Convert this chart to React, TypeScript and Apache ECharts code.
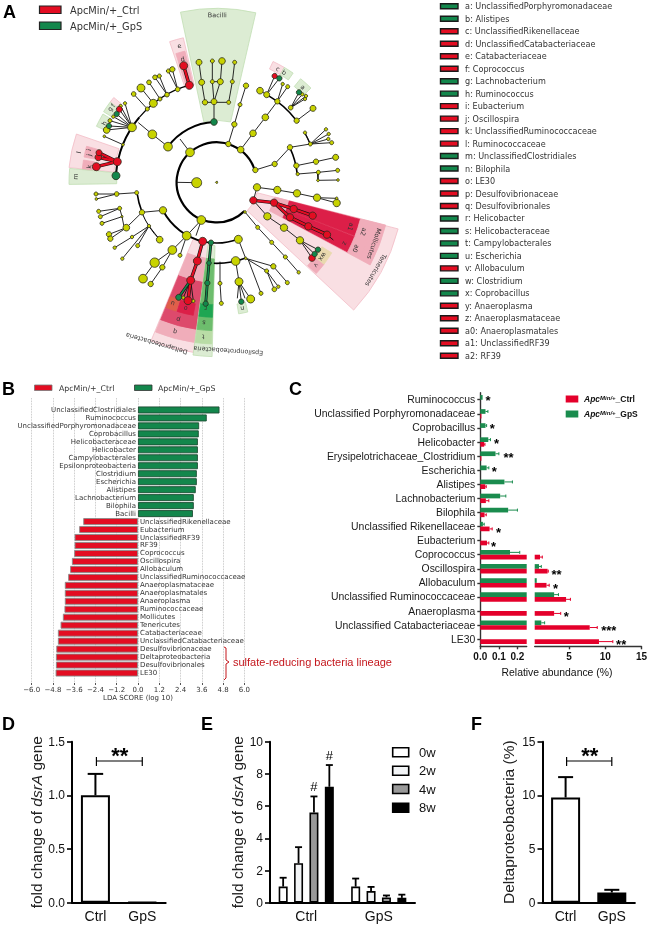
import React, { useEffect, useRef } from "react";
import * as echarts from "echarts";

const SANS = "Liberation Sans";
const DEJA = "DejaVu Sans";
const RED = "#e30d22";
const GREEN = "#13874c";

// ---------- panel A legend
const cladeKeyNames = [
  "a: UnclassifiedPorphyromonadaceae", "b: Alistipes", "c: UnclassifiedRikenellaceae", "d: UnclassifiedCatabacteriaceae",
  "e: Catabacteriaceae", "f: Coprococcus", "g: Lachnobacterium", "h: Ruminococcus", "i: Eubacterium", "j: Oscillospira",
  "k: UnclassifiedRuminococcaceae", "l: Ruminococcaceae", "m: UnclassifiedClostridiales", "n: Bilophila", "o: LE30",
  "p: Desulfovibrionaceae", "q: Desulfovibrionales", "r: Helicobacter", "s: Helicobacteraceae", "t: Campylobacterales",
  "u: Escherichia", "v: Allobaculum", "w: Clostridium", "x: Coprobacillus", "y: Anaeroplasma", "z: Anaeroplasmataceae",
  "a0: Anaeroplasmatales", "a1: UnclassifiedRF39", "a2: RF39",
];
const cladeKeyGroup = "GGRRRRGGRRRRGGRRRGGGGRGGRRRRR";

// ---------- panel A cladogram (units: 1/3 px)
const ringCentre = [650, 547];
const sectorPalette: Record<string, string> = {
  gl: "#dcecd3", pl: "#f9dfe3", pm: "#f0adba", pr: "#dd4a6c", rd: "#dc1f48", or: "#df5f4a", o: "#e9d9ae",
  g2: "#b9dca6", g3: "#6dbd6d", g4: "#1fa652",
};
const sectors: [number, number, number, number, string][] = [
  [186, 522, -102, -77, "gl"],
  [300, 445, -108.5, -103, "pl"], [300, 405, -107.6, -103.6, "pm"],
  [375, 400, -65, -59.5, "pl"], [375, 400, -59.5, -55, "gl"], [370, 400, -51, -45, "gl"],
  [372, 400, -143, -140.5, "pl"], [372, 400, -148, -143, "gl"], [370, 398, -155, -149, "gl"],
  [310, 445, -174.3, -161, "pl"], [372, 405, -167, -164.5, "pm"], [372, 405, -169.2, -167, "pm"], [372, 405, -175, -170.5, "pm"],
  [300, 443, -180.8, -174.6, "gl"],
  [125, 562, 14.4, 43, "pl"], [180, 523, 14.2, 28.3, "pm"],
  [225, 445, 14.5, 21.2, "rd"], [445, 485, 14.5, 21.2, "pm"], [225, 445, 21.5, 28, "rd"], [445, 485, 21.5, 28, "pm"],
  [370, 405, 37.3, 42.5, "pm"], [370, 405, 31.5, 37.3, "o"],
  [185, 515, 97.5, 112.5, "pl"], [445, 485, 97.8, 112.2, "pm"], [300, 445, 97.8, 112.2, "pr"], [230, 300, 97.8, 112.2, "pm"],
  [370, 405, 100, 107, "rd"], [370, 405, 107.5, 112, "or"],
  [190, 523, 91.5, 97.8, "gl"], [445, 485, 91.8, 97.6, "g2"], [405, 445, 91.8, 97.6, "g3"], [365, 405, 91.8, 97.6, "g4"], [230, 365, 91.8, 97.6, "g3"],
  [370, 400, 76.5, 80.5, "gl"],
];
// [radius, from, to, width in px]
const arcs: [number, number, number, number][] = [
  [120, 46, 343, 2.2], [181, -143.8, -92.5, 1.9], [303, -176, -140, 2], [303, -140, -105.7, 1.2],
  [182, 69, 103, 1.6], [182, 103, 152, 1.9], [241, 158, 172.6, 1.6], [242, 134.8, 158, 1],
  [243, 69, 92, 1.6], [243, -25, -6, 1.6], [303, -60, -38, 1.6], [303, -29, -22, 1.2], [304, -5.6, -1, 1.2],
];
const thinLinks: number[][] = [
  [530, 547, 590, 548], [570, 457, 540, 417], [504, 440, 457, 403, 415, 368],
  [396, 382, 320, 390], [396, 382, 327, 378], [396, 382, 330, 362], [396, 382, 340, 350], [396, 382, 350, 342], [396, 382, 358, 328], [396, 382, 375, 310], [396, 382, 362, 318],
  [369, 434, 313, 409], [442, 327, 401, 282], [460, 310, 423, 264], [480, 297, 447, 247], [501, 284, 465, 232], [501, 284, 478, 228], [533, 268, 505, 213], [533, 268, 517, 208],
  [642, 366, 642, 305], [615, 307, 686, 307], [615, 307, 605, 247, 597, 187], [642, 305, 637, 245, 637, 183], [642, 305, 661, 245, 666, 183], [686, 307, 697, 245, 704, 187], [637, 245, 661, 245],
  [685, 432, 703, 373, 720, 314, 738, 257], [722, 449, 759, 400, 796, 352, 832, 304],
  [800, 284, 824, 228], [800, 284, 838, 235], [800, 284, 780, 272], [832, 304, 848, 252], [832, 304, 863, 260],
  [872, 323, 897, 277], [872, 323, 907, 283], [872, 323, 915, 297], [872, 323, 918, 288], [890, 362, 939, 325],
  [766, 510, 824, 492, 870, 442], [870, 442, 931, 432], [931, 432, 915, 398], [931, 432, 978, 388], [931, 432, 986, 402], [931, 432, 995, 428], [931, 432, 985, 417],
  [889, 497, 948, 485, 1007, 472], [893, 522, 955, 517, 1013, 511], [955, 517, 954, 541], [954, 541, 1014, 540],
  [771, 562, 832, 570, 891, 580, 951, 593, 1010, 609], [951, 593, 1010, 595], [771, 562, 760, 601],
  [760, 601, 802, 649, 852, 683, 900, 721], [900, 721, 954, 749], [900, 721, 944, 762], [900, 721, 936, 774], [981, 704, 1000, 720],
  [735, 636, 773, 682, 815, 727, 856, 771, 896, 817],
  [715, 718, 737, 775], [737, 775, 820, 799, 862, 848], [737, 775, 800, 813, 835, 860], [800, 813, 823, 868],
  [660, 785, 660, 850, 664, 910], [707, 783, 717, 845], [717, 845, 724, 905], [717, 845, 712, 895], [717, 845, 752, 897], [717, 845, 735, 895], [745, 780, 783, 880],
  [572, 841, 550, 893], [572, 841, 580, 903], [604, 660, 588, 707], [604, 660, 560, 707],
  [560, 707, 517, 750], [517, 750, 464, 788, 429, 836], [517, 750, 487, 802, 452, 852], [560, 707, 540, 766],
  [489, 631, 426, 637], [447, 678, 367, 776], [447, 678, 413, 737], [447, 678, 396, 711, 344, 743], [447, 678, 479, 719],
  [426, 637, 379, 683, 327, 703], [379, 683, 331, 716], [410, 578, 350, 582, 288, 582], [350, 582, 289, 597],
  [359, 625, 296, 634], [359, 625, 301, 650], [366, 650, 306, 670], [359, 625, 366, 650, 372, 680],
  [352, 485, 348, 527],
];
const redLinks: number[][] = [
  [568, 256, 551, 197], [352, 485, 295, 472], [352, 485, 297, 458], [352, 485, 289, 500],
  [760, 601, 822, 608, 881, 627, 938, 647], [822, 608, 870, 652, 925, 679, 981, 704],
  [608, 724, 592, 783, 572, 841, 564, 902],
];
const greenLinks: number[][] = [[633, 728, 627, 789, 622, 849, 617, 911], [572, 841, 536, 892]];
const yellowNodes: number[][] = [
  [650, 547, 3], [590, 548, 15], [570, 457, 13], [504, 440, 13], [457, 403, 13], [396, 382, 13], [369, 434, 4], [320, 390, 10], [313, 409, 4], [330, 362, 6], [340, 350, 5], [375, 310, 5], [362, 318, 5],
  [442, 327, 6], [460, 310, 12], [423, 264, 12], [401, 282, 7], [447, 247, 7], [465, 232, 7], [478, 228, 6], [480, 297, 6], [501, 284, 7], [505, 213, 6], [517, 208, 8], [533, 268, 7],
  [642, 305, 9], [615, 307, 8], [686, 307, 6], [605, 247, 9], [597, 187, 9], [637, 245, 6], [637, 183, 6], [661, 245, 9], [666, 183, 10], [697, 245, 6], [704, 187, 6],
  [685, 432, 8], [703, 373, 8], [720, 314, 6], [738, 257, 8], [722, 449, 10], [759, 400, 10], [796, 352, 10], [832, 304, 8], [800, 284, 9], [780, 272, 10], [848, 252, 5], [863, 260, 6], [872, 323, 7], [890, 362, 8], [939, 325, 9], [907, 283, 5], [915, 297, 5], [918, 288, 5],
  [766, 510, 8], [824, 492, 8], [870, 442, 8], [889, 497, 8], [931, 432, 6], [915, 398, 5], [978, 388, 5], [986, 402, 5], [995, 428, 6], [985, 417, 5], [948, 485, 8], [1007, 472, 9], [893, 522, 5], [955, 517, 6], [1013, 511, 6], [954, 541, 4], [1014, 540, 4],
  [771, 562, 11], [832, 570, 11], [891, 580, 11], [951, 593, 11], [1010, 609, 11], [1010, 595, 4], [802, 649, 11], [852, 683, 11], [900, 721, 11],
  [735, 636, 4], [773, 682, 6], [815, 727, 6], [856, 771, 6], [896, 817, 5], [715, 718, 12], [737, 775, 4], [707, 783, 13], [660, 850, 6], [664, 910, 6], [800, 813, 6], [820, 799, 8], [823, 868, 7], [835, 860, 5], [862, 848, 6], [783, 880, 6], [717, 845, 12], [752, 897, 12],
  [550, 893, 5], [580, 903, 5], [560, 707, 13], [604, 660, 13], [517, 750, 13], [489, 631, 11], [464, 788, 14], [487, 802, 8], [429, 836, 13], [452, 852, 8], [540, 766, 6], [367, 776, 5], [413, 737, 6], [344, 743, 5], [479, 719, 10], [447, 678, 5], [396, 711, 5], [426, 637, 8], [410, 578, 6], [350, 582, 7], [288, 582, 6], [289, 597, 4], [379, 683, 10], [327, 703, 8], [331, 716, 8], [359, 625, 6], [366, 650, 3], [296, 634, 6], [301, 650, 6], [306, 670, 6],
];
const redNodes: number[][] = [
  [568, 256, 12], [551, 197, 12], [824, 228, 8], [358, 328, 9], [352, 485, 12], [295, 472, 10], [297, 458, 9], [289, 500, 12],
  [760, 601, 11], [822, 608, 11], [881, 627, 11], [938, 647, 11], [870, 652, 11], [925, 679, 11], [981, 704, 11], [936, 774, 10],
  [608, 724, 12], [592, 783, 12], [572, 841, 12], [564, 902, 12],
];
const greenNodes: number[][] = [
  [642, 366, 10], [838, 235, 8], [897, 277, 8], [350, 342, 8], [327, 378, 8], [348, 527, 12], [954, 749, 8], [944, 762, 8], [724, 905, 8],
  [633, 728, 8], [627, 789, 7], [622, 849, 8], [617, 911, 8], [536, 892, 9],
];
const cladeLabels: [string, number, number, number?][] = [
  ["Bacilli", 652, 46], ["Tenericutes", 1127, 810, 120], ["Mollicutes", 1122, 731, 109], ["Deltaproteobacteria", 470, 1030, 196], ["Epsilonproteobacteria", 685, 1052, 184],
  ["e", 538, 138], ["d", 548, 178], ["c", 833, 207], ["b", 852, 218], ["a", 908, 262], ["f", 340, 317], ["g", 331, 327], ["h", 313, 370],
  ["l", 237, 457], ["i", 267, 450], ["j", 268, 465], ["k", 268, 500], ["m", 227, 530],
  ["a1", 1052, 680], ["a2", 1090, 695], ["z", 1034, 730], ["a0", 1067, 745], ["wx", 967, 770], ["v", 948, 796],
  ["q", 525, 995], ["p", 535, 958], ["u", 518, 910], ["o", 557, 925], ["t", 610, 1010], ["s", 612, 968], ["r", 617, 925], ["n", 727, 925],
];

// ---------- panel B
const ldaGreenNames = ["UnclassifiedClostridiales", "Ruminococcus", "UnclassifiedPorphyromonadaceae", "Coprobacillus", "Helicobacteraceae", "Helicobacter", "Campylobacterales", "Epsilonproteobacteria", "Clostridium", "Escherichia", "Alistipes", "Lachnobacterium", "Bilophila", "Bacilli"];
const ldaGreenScores = [4.6, 3.88, 3.45, 3.43, 3.38, 3.38, 3.38, 3.38, 3.32, 3.32, 3.26, 3.15, 3.15, 3.1];
const ldaRedNames = ["UnclassifiedRikenellaceae", "Eubacterium", "UnclassifiedRF39", "RF39", "Coprococcus", "Oscillospira", "Allobaculum", "UnclassifiedRuminococcaceae", "Anaeroplasmataceae", "Anaeroplasmatales", "Anaeroplasma", "Ruminococcaceae", "Mollicutes", "Tenericutes", "Catabacteriaceae", "UnclassifiedCatabacteriaceae", "Desulfovibrionaceae", "Deltaproteobacteria", "Desulfovibrionales", "LE30"];
const ldaRedScores = [-3.09, -3.32, -3.58, -3.58, -3.6, -3.73, -3.83, -3.94, -4.13, -4.13, -4.13, -4.15, -4.24, -4.37, -4.52, -4.52, -4.61, -4.63, -4.63, -4.65];

// ---------- panel C
const abundanceNames = ["Ruminococcus", "Unclassified Porphyromonadaceae", "Coprobacillus", "Helicobacter", "Erysipelotrichaceae_Clostridium", "Escherichia", "Alistipes", "Lachnobacterium", "Bilophila", "Unclassified Rikenellaceae", "Eubacterium", "Coprococcus", "Oscillospira", "Allobaculum", "Unclassified Ruminococcaceae", "Anaeroplasma", "Unclassified Catabacteriaceae", "LE30"];
const gpsMean = [0.0125, 0.028, 0.028, 0.043, 0.082, 0.034, 0.13, 0.107, 0.15, 0.014, 0, 0.16, 0.86, 0.55, 2.95, 0, 1.18, 0];
const gpsErr = [0.0125, 0.041, 0.034, 0.055, 0.1, 0.046, 0.173, 0.1375, 0.2, 0.021, 0, 0.2125, 1.18, 0.55, 3.55, 0, 1.64, 0];
const ctrlMean = [0, 0.006, 0, 0.021, 0.006, 0, 0.027, 0.03, 0.023, 0.05, 0.036, 1.0, 2.05, 1.9, 4.6, 2.95, 7.86, 9.14];
const ctrlErr = [0, 0.006, 0, 0.025, 0.006, 0, 0.032, 0.046, 0.032, 0.064, 0.046, 1.32, 2.14, 2.27, 5.2, 3.86, 8.9, 11.05];
const starsNear: [number, number, string][] = [[0.041, 0, "*"], [0.064, 2, "*"], [0.0875, 3, "*"], [0.152, 4, "**"], [0.075, 5, "*"], [0.098, 9, "*"], [0.071, 10, "*"]];
const starsFar: [number, number, string][] = [[3.27, 12, "**"], [3.14, 13, "*"], [4.64, 15, "*"], [10.5, 16, "***"], [12.2, 17, "**"]];
const BREAK_AT = 0.27;

// ---------- panels D, E, F
const groups = ["Ctrl", "GpS"];
const dMean = [1.0, 0.006];
const dErr = [1.2, 0.006];
const weeks = ["0w", "2w", "4w", "8w"];
const weekFills = ["#ffffff", "#f2f4f6", "#999999", "#000000"];
const eMean = [[1.0, 1.0], [2.45, 0.72], [5.6, 0.33], [7.2, 0.3]];
const eErr = [[1.55, 1.5], [3.45, 0.98], [6.6, 0.45], [8.55, 0.5]];
const eHash: [number, number, number][] = [[0, 2, 7.19], [0, 3, 9.13]];
const fMean = [9.8, 0.95];
const fErr = [11.7, 1.2];

const rad = (d: number) => (d * Math.PI) / 180;
const indexData = (a: any[]) => a.map((_, i) => [i, i]);

function cladeSeries(renderOne: (row: any, api: any, k: number, centre: number[]) => any, rows: any[]) {
  return {
    type: "custom", xAxisIndex: 0, yAxisIndex: 0, silent: true, clip: false, data: indexData(rows),
    renderItem: (p: any, api: any) => {
      const k = api.size([1, 0])[0];
      return renderOne(rows[p.dataIndex], api, k, api.coord(ringCentre));
    },
  };
}
const linkSeries = (rows: number[][], stroke: string, lw: number) =>
  cladeSeries((row, api) => {
    const points: number[][] = [];
    for (let i = 0; i < row.length; i += 2) points.push(api.coord([row[i], row[i + 1]]));
    return { type: "polyline", shape: { points }, style: { stroke, lineWidth: lw, fill: "none" } };
  }, rows);
const nodeSeries = (rows: number[][], color: string) => ({
  type: "scatter", xAxisIndex: 0, yAxisIndex: 0, silent: true, clip: false, data: rows,
  symbolSize: (v: number[]) => (v[2] * 2) / 3,
  itemStyle: { color, borderColor: "#2b2b1a", borderWidth: 0.8, opacity: 1 },
});

function errSeries(axis: number, rows: number[][], cap: number, lw: number) {
  // rows: [category, mean, top, px offset]
  return {
    type: "custom", xAxisIndex: axis, yAxisIndex: axis, silent: true, clip: false, z: 1, data: indexData(rows),
    renderItem: (p: any, api: any) => {
      const [c, m, t, off] = rows[p.dataIndex];
      const a = api.coord([c, m]);
      const b = api.coord([c, t]);
      const x = a[0] + off;
      return {
        type: "group",
        children: [
          { type: "line", shape: { x1: x, y1: a[1], x2: x, y2: b[1] }, style: { stroke: "#000", lineWidth: lw } },
          { type: "line", shape: { x1: x - cap / 2, y1: b[1], x2: x + cap / 2, y2: b[1] }, style: { stroke: "#000", lineWidth: lw } },
        ],
      };
    },
  };
}
function bracketSeries(axis: number, level: number) {
  return {
    type: "custom", xAxisIndex: axis, yAxisIndex: axis, silent: true, clip: false, data: [[0, level]],
    renderItem: (_: any, api: any) => {
      const a = api.coord([0, level]);
      const b = api.coord([1, level]);
      const st = { stroke: "#000", lineWidth: 1.2 };
      return {
        type: "group",
        children: [
          { type: "line", shape: { x1: a[0] + 1, y1: a[1], x2: b[0], y2: a[1] }, style: st },
          { type: "line", shape: { x1: a[0] + 1, y1: a[1] - 4, x2: a[0] + 1, y2: a[1] + 5 }, style: st },
          { type: "line", shape: { x1: b[0], y1: a[1] - 4, x2: b[0], y2: a[1] + 5 }, style: st },
          { type: "text", x: (a[0] + b[0]) / 2 + 1, y: a[1] - 6, style: { text: "**", fill: "#000", fontSize: 22, fontWeight: "bold", fontFamily: SANS, align: "center", verticalAlign: "middle" } },
        ],
      };
    },
  };
}
function hErr(axis: number, means: number[], tops: number[], color: string, dy: number, keep: (m: number) => boolean) {
  const rows = means.map((m, i) => [m, tops[i], i]).filter((r) => keep(r[0]) && r[1] > r[0]);
  return {
    type: "custom", xAxisIndex: axis, yAxisIndex: axis, silent: true, clip: false, data: indexData(rows),
    renderItem: (p: any, api: any) => {
      const [m, t, i] = rows[p.dataIndex];
      const a = api.coord([m, i]);
      const b = api.coord([t, i]);
      const y = a[1] + dy;
      return {
        type: "group",
        children: [
          { type: "line", shape: { x1: a[0], y1: y, x2: b[0], y2: y }, style: { stroke: color, lineWidth: 1 } },
          { type: "line", shape: { x1: b[0], y1: y - 1.5, x2: b[0], y2: y + 1.5 }, style: { stroke: color, lineWidth: 1 } },
        ],
      };
    },
  };
}
const starSeries = (axis: number, rows: [number, number, string][]) => ({
  type: "custom", xAxisIndex: axis, yAxisIndex: axis, silent: true, clip: false, data: indexData(rows),
  renderItem: (p: any, api: any) => {
    const [v, i, s] = rows[p.dataIndex];
    const c = api.coord([v, i]);
    return { type: "text", x: c[0], y: c[1] + (i >= 9 ? 5.5 : 1), style: { text: s, fill: "#000", fontSize: 13, fontWeight: "bold", fontFamily: SANS, align: "center", verticalAlign: "middle" } };
  },
});

function panelAxes(left: number, width: number, max: number, interval: number, digits: number, name: string, gap: number) {
  return {
    grid: { left, width, top: 741.7, height: 161 },
    xAxis: {
      type: "category", data: groups, axisLine: { lineStyle: { color: "#000", width: 2 } },
      axisTick: { alignWithLabel: true, length: 4, lineStyle: { color: "#000", width: 1.6 } },
      axisLabel: { color: "#111", fontFamily: SANS, fontSize: 14, margin: 6 },
    },
    yAxis: {
      type: "value", min: 0, max, interval, splitLine: { show: false },
      axisLine: { show: true, lineStyle: { color: "#000", width: 2 } },
      axisTick: { show: true, length: 5, lineStyle: { color: "#000", width: 1.6 } },
      axisLabel: { color: "#111", fontFamily: SANS, fontSize: 12, margin: 7, formatter: (v: number) => v.toFixed(digits) },
      name, nameLocation: "middle", nameGap: gap,
      nameTextStyle: {
        color: "#222", fontFamily: SANS, fontSize: 15.5,
        rich: { n: { fontFamily: SANS, fontSize: 15.5, color: "#222" }, i: { fontFamily: SANS, fontSize: 15.5, color: "#222", fontStyle: "italic" } },
      },
    },
  };
}

function buildOption() {
  const ldaNames = ["", ...ldaGreenNames, ...ldaRedNames, ""];
  const ldaData: any[] = [
    { value: null },
    ...ldaGreenScores.map((v) => ({ value: v, itemStyle: { color: GREEN, borderColor: "#1d4d33" }, label: { position: "left" } })),
    ...ldaRedScores.map((v) => ({ value: v, itemStyle: { color: RED, borderColor: "#8a8a8a" }, label: { position: "right" } })),
    { value: null },
  ];
  const d = panelAxes(72, 93.7, 1.5, 0.5, 1, "{n|fold change of }{i|dsrA}{n| gene}", 26);
  const e = panelAxes(270, 145, 10, 2, 0, "{n|fold change of }{i|dsrA}{n| gene}", 24);
  const f = panelAxes(542.5, 92.4, 15, 5, 0, "{n|Deltaproteobacteria (%)}", 26);
  const hiddenCat = (i: number) => ({ type: "category", gridIndex: i, data: abundanceNames, inverse: true, show: false });
  const strokeAxis = { lineStyle: { color: "#333", width: 1.4 } };
  const abundanceTick = { color: "#111", fontFamily: SANS, fontSize: 10, fontWeight: "bold", margin: 5 };
  const abundanceGrid = { top: 392.7, height: 253.6 };

  const texts: any[] = [];
  const addText = (text: string, x: number, y: number, fontSize: number, extra: any = {}) =>
    texts.push({ type: "text", x, y, silent: true, style: { text, fontSize, fontFamily: DEJA, fill: "#333", verticalAlign: "middle", ...extra } });
  const addRect = (x: number, y: number, w: number, h: number, fill: string, stroke = "#222", lw = 1) =>
    texts.push({ type: "rect", silent: true, shape: { x, y, width: w, height: h }, style: { fill, stroke, lineWidth: lw } });

  // panel letters
  [["A", 3, 12], ["B", 2, 389], ["C", 289, 389], ["D", 2, 724], ["E", 201, 724], ["F", 471, 724]].forEach(([t, x, y]) =>
    addText(t as string, x as number, y as number, 18, { fontFamily: SANS, fontWeight: "bold", fill: "#000" }));

  // A legends
  addRect(39.5, 6, 21.5, 7.5, RED, "#222", 1.2); addRect(39.5, 22, 21.5, 7.5, GREEN, "#222", 1.2);
  addText("ApcMin/+_Ctrl", 70, 10, 9.8); addText("ApcMin/+_GpS", 70, 26, 9.8);
  cladeKeyNames.forEach((t, i) => {
    const y = 6.3 + i * 12.48;
    addRect(440.5, y - 2.5, 17.5, 5, cladeKeyGroup[i] === "G" ? GREEN : RED, "#1a1a1a", 1.4);
    addText(t, 465, y, 8.1);
  });
  // B legend
  addRect(34.5, 385, 17.5, 5.5, RED, "#777", 0.8); addRect(134.5, 385, 17.5, 5.5, GREEN, "#333", 0.8);
  addText("ApcMin/+_Ctrl", 59, 388, 7.8); addText("ApcMin/+_GpS", 158, 388, 7.8);
  // B bracket and note
  texts.push({ type: "polyline", silent: true, shape: { points: [[224, 647], [226, 648], [226, 660], [229, 662], [226, 664], [226, 678], [224, 680]] }, style: { stroke: "#c4161c", lineWidth: 1, fill: "none" } });
  addText("sulfate-reducing bacteria lineage", 233, 662, 11, { fontFamily: SANS, fill: "#c4161c" });
  // C legend
  const sup = { i: { fontFamily: SANS, fontWeight: "bold", fontStyle: "italic", fontSize: 8.5, fill: "#111" }, s: { fontFamily: SANS, fontWeight: "bold", fontStyle: "italic", fontSize: 6, fill: "#111", verticalAlign: "top" }, b: { fontFamily: SANS, fontWeight: "bold", fontSize: 8.5, fill: "#111" } };
  addRect(565.7, 395.5, 12.6, 7, "#e4002b", "#e4002b", 0); addRect(565.7, 410.5, 12.6, 7, "#1a8c4e", "#1a8c4e", 0);
  addText("{i|Apc}{s|Min/+}{b|_Ctrl}", 584, 399, 8.5, { rich: sup }); addText("{i|Apc}{s|Min/+}{b|_GpS}", 584, 414, 8.5, { rich: sup });
  addText("Relative abundance (%)", 557, 672, 10.4, { fontFamily: SANS, fill: "#111", align: "center" });
  // E legend
  weeks.forEach((w, i) => {
    const y = [752.3, 770.7, 789, 807.7][i];
    addRect(392.7, y - 4.5, 16, 9, weekFills[i], "#000", 1.6);
    addText(w, 419, y, 13, { fontFamily: SANS, fill: "#111" });
  });

  const series: any[] = [
    cladeSeries((row, api, k, c) => ({
      type: "sector",
      shape: { cx: c[0], cy: c[1], r0: row[0] * k, r: row[1] * k, startAngle: rad(row[2]), endAngle: rad(row[3]) },
      style: { fill: sectorPalette[row[4]], stroke: row[4] === "gl" ? "#c2deb4" : row[4] === "pl" ? "#f3bcc6" : sectorPalette[row[4]], lineWidth: 0.8 },
    }), sectors),
    cladeSeries((row, api, k, c) => ({
      type: "arc",
      shape: { cx: c[0], cy: c[1], r: row[0] * k, startAngle: rad(row[1]), endAngle: rad(row[2]), clockwise: true },
      style: { stroke: "#000", lineWidth: row[3], fill: "none" },
    }), arcs),
    linkSeries(thinLinks, "#111", 0.9),
    linkSeries(redLinks, "#111", 3.4), linkSeries(redLinks, RED, 2.2),
    linkSeries(greenLinks, "#111", 2.8), linkSeries(greenLinks, GREEN, 1.6),
    nodeSeries(yellowNodes, "#c8d300"), nodeSeries(redNodes, RED), nodeSeries(greenNodes, GREEN),
    cladeSeries((row, api, k, c) => {
      const [t, x, y, force] = row;
      const p = api.coord([x, y]);
      const ang = (Math.atan2(p[1] - c[1], p[0] - c[0]) * 180) / Math.PI;
      const turn = force !== undefined ? force : ang + 90;
      return { type: "text", x: p[0], y: p[1], rotation: -rad(turn), style: { text: t, fill: "#333", fontSize: 6.4, fontFamily: DEJA, align: "center", verticalAlign: "middle" } };
    }, cladeLabels),

    {
      type: "bar", xAxisIndex: 1, yAxisIndex: 1, barWidth: 7, data: ldaData, silent: true,
      itemStyle: { borderWidth: 0.9 },
      label: { show: true, fontFamily: DEJA, fontSize: 7, color: "#333", distance: 2, formatter: (p: any) => ldaNames[p.dataIndex] },
    },

    { type: "bar", xAxisIndex: 2, yAxisIndex: 2, barWidth: 4.7, barGap: "0%", silent: true, itemStyle: { color: "#1a8c4e" }, data: gpsMean },
    { type: "bar", xAxisIndex: 2, yAxisIndex: 2, barWidth: 4.7, barGap: "0%", silent: true, itemStyle: { color: "#e4002b" }, data: ctrlMean },
    { type: "bar", xAxisIndex: 3, yAxisIndex: 3, barWidth: 4.7, barGap: "0%", silent: true, itemStyle: { color: "#1a8c4e" }, data: gpsMean.map((v) => (v >= BREAK_AT ? v : null)) },
    { type: "bar", xAxisIndex: 3, yAxisIndex: 3, barWidth: 4.7, barGap: "0%", silent: true, itemStyle: { color: "#e4002b" }, data: ctrlMean.map((v) => (v >= BREAK_AT ? v : null)) },
    hErr(2, gpsMean, gpsErr, "#1a8c4e", -2.35, (m) => m < BREAK_AT), hErr(2, ctrlMean, ctrlErr, "#e4002b", 2.35, (m) => m < BREAK_AT),
    hErr(3, gpsMean, gpsErr, "#1a8c4e", -2.35, (m) => m >= BREAK_AT), hErr(3, ctrlMean, ctrlErr, "#e4002b", 2.35, (m) => m >= BREAK_AT),
    starSeries(2, starsNear), starSeries(3, starsFar),

    errSeries(4, dMean.map((m, i) => [i, m, dErr[i], 0]).slice(0, 1), 15.5, 2),
    {
      type: "bar", xAxisIndex: 4, yAxisIndex: 4, barWidth: 29, silent: true, z: 3, data: dMean,
      itemStyle: { color: "#fff", borderColor: "#000", borderWidth: 2 },
    },
    bracketSeries(4, 1.32),

    ...weeks.flatMap((w, s) => [
      errSeries(5, groups.map((_, g) => [g, eMean[s][g], eErr[s][g], (s - 1.5) * 15.4]), 7, 1.8),
      {
        type: "bar", name: w, xAxisIndex: 5, yAxisIndex: 5, barWidth: 9, barGap: "71%", silent: true, z: 3, data: eMean[s],
        itemStyle: { color: weekFills[s], borderColor: "#000", borderWidth: 1.6 },
      },
    ]),
    {
      type: "custom", xAxisIndex: 5, yAxisIndex: 5, silent: true, clip: false, data: indexData(eHash),
      renderItem: (p: any, api: any) => {
        const [g, s, v] = eHash[p.dataIndex];
        const c = api.coord([g, v]);
        return { type: "text", x: c[0] + (s - 1.5) * 15.4, y: c[1], style: { text: "#", fill: "#000", fontSize: 13, fontFamily: SANS, align: "center", verticalAlign: "middle" } };
      },
    },

    errSeries(6, fMean.map((m, i) => [i, m, fErr[i], 0]), 15, 2),
    {
      type: "bar", xAxisIndex: 6, yAxisIndex: 6, barWidth: 29, silent: true, z: 3,
      data: [{ value: fMean[0], itemStyle: { color: "#fff" } }, { value: fMean[1], itemStyle: { color: "#000" } }],
      itemStyle: { borderColor: "#000", borderWidth: 2 },
    },
    bracketSeries(6, 13.2),
  ];

  return {
    animation: false,
    backgroundColor: "#ffffff",
    grid: [
      { left: 0, top: 0, width: 430, height: 370 },
      { left: 31.7, width: 212.6, top: 398, height: 287 },
      { left: 480.3, width: 46.4, ...abundanceGrid },
      { left: 534.7, width: 107.6, ...abundanceGrid },
      { ...d.grid }, { ...e.grid }, { ...f.grid },
    ],
    xAxis: [
      { type: "value", gridIndex: 0, min: 0, max: 1290, show: false },
      {
        type: "value", gridIndex: 1, min: -6, max: 6, interval: 1.2,
        axisLine: { show: false }, axisTick: { show: true, inside: true, length: 2, lineStyle: { color: "#555" } },
        splitLine: { show: true, lineStyle: { type: "dotted", color: "#b5b5b5", width: 0.8 } },
        axisLabel: { fontFamily: DEJA, fontSize: 7, color: "#333", margin: 1, formatter: (v: number) => (v < 0 ? "\u2212" : "") + Math.abs(v).toFixed(1) },
        name: "LDA SCORE (log 10)", nameLocation: "middle", nameGap: 9, nameTextStyle: { fontFamily: DEJA, fontSize: 7, color: "#333" },
      },
      {
        type: "value", gridIndex: 2, min: 0, max: 0.25, splitLine: { show: false }, axisLine: { show: true, ...strokeAxis },
        axisTick: { show: true, length: 3, customValues: [0, 0.1, 0.2], ...strokeAxis },
        axisLabel: { ...abundanceTick, customValues: [0, 0.1, 0.2], formatter: (v: number) => v.toFixed(1) },
      },
      {
        type: "value", gridIndex: 3, min: BREAK_AT, max: 15, splitLine: { show: false }, axisLine: { show: true, ...strokeAxis },
        axisTick: { show: true, length: 3, customValues: [5, 10, 15], ...strokeAxis },
        axisLabel: { ...abundanceTick, customValues: [5, 10, 15] },
      },
      { ...d.xAxis, gridIndex: 4 }, { ...e.xAxis, gridIndex: 5 }, { ...f.xAxis, gridIndex: 6 },
    ],
    yAxis: [
      { type: "value", gridIndex: 0, min: 0, max: 1110, inverse: true, show: false },
      { type: "category", gridIndex: 1, data: ldaNames, inverse: true, show: false },
      {
        type: "category", gridIndex: 2, data: abundanceNames, inverse: true,
        axisLine: { show: true, ...strokeAxis }, axisTick: { show: true, length: 3, alignWithLabel: true, ...strokeAxis },
        axisLabel: { color: "#1a1a1a", fontFamily: SANS, fontSize: 10.4, margin: 5, interval: 0 },
      },
      hiddenCat(3),
      { ...d.yAxis, gridIndex: 4 }, { ...e.yAxis, gridIndex: 5 }, { ...f.yAxis, gridIndex: 6 },
    ],
    graphic: { elements: texts },
    series,
  };
}

export default function App() {
  const ref = useRef<HTMLDivElement | null>(null);
  useEffect(() => {
    if (!ref.current) return;
    const chart = echarts.init(ref.current, undefined, { renderer: "svg" });
    chart.setOption(buildOption() as any);
    return () => chart.dispose();
  }, []);
  return <div ref={ref} style={{ position: "fixed", left: 0, top: 0, width: 650, height: 935, filter: "blur(0.4px)" }} />;
}
